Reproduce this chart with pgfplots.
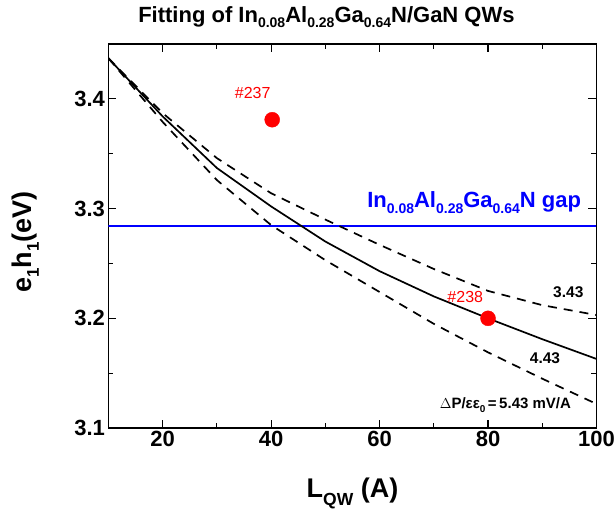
\documentclass[border=0pt]{standalone}
\usepackage{pgfplots}
\pgfplotsset{compat=1.18}
\usepackage{fontspec}
\setmainfont{Liberation Sans}
\newcommand\fs[1]{\fontsize{#1bp}{#1bp}\selectfont}
\newcommand\sbs[3]{\raisebox{-#2bp}{\fs{#1}#3}}
\begin{document}
\begin{tikzpicture}
\begin{axis}[
  width=488bp, height=384bp, scale only axis,
  xmin=10, xmax=100, ymin=3.1, ymax=3.45,
  xtick={20,40,60,80,100}, minor x tick num=1,
  ytick={3.1,3.2,3.3,3.4}, minor y tick num=1,
  tick align=inside,
  major tick length=8bp, minor tick length=5bp,
  every tick/.style={black, line width=1.2bp},
  axis line style={line width=1.6bp},
  ticklabel style={font=\fs{22}\bfseries},
  /pgf/number format/assume math mode=true,
  yticklabel style={/pgf/number format/fixed, /pgf/number format/precision=1},
  title={\fs{22}\bfseries Fitting of In\sbs{14}{5}{0.08}Al\sbs{14}{5}{0.28}Ga\sbs{14}{5}{0.64}N/GaN QWs},
  title style={at={(axis description cs:0.4467,1.0417)}, anchor=base, inner sep=0},
  xlabel={\fs{27}\bfseries L\sbs{17.5}{7.5}{QW} (A)},
  xlabel style={at={(axis description cs:0.5,-0.182)}, anchor=base, inner sep=0},
  ylabel={\fs{27}\bfseries e\sbs{17}{7}{1}h\sbs{17}{7}{1}(eV)},
  ylabel style={at={(axis description cs:-0.157,0.484)}, anchor=base, inner sep=0},
]
\coordinate (sw) at (rel axis cs:0,0);
\coordinate (ne) at (rel axis cs:1,1);
\addplot[blue, line width=1.5bp] coordinates {(10,3.284) (100,3.284)};
\addplot[black, line width=1.7bp] coordinates {
(10,3.437) (20,3.384) (30,3.337) (40,3.302) (50,3.270) (60,3.243) (70,3.220) (80,3.200) (90,3.181) (100,3.163)};
\addplot[black, line width=1.7bp, dash pattern=on 9bp off 7bp] coordinates {
(10,3.437) (20,3.387) (30,3.346) (40,3.314) (50,3.290) (60,3.267) (70,3.245) (80,3.225) (90,3.212) (100,3.203)};
\addplot[black, line width=1.7bp, dash pattern=on 9bp off 7bp] coordinates {
(10,3.437) (20,3.379) (30,3.326) (40,3.285) (50,3.253) (60,3.224) (70,3.195) (80,3.169) (90,3.145) (100,3.122)};
\addplot[only marks, mark=*, mark size=7.5bp, red, mark options={draw=red, fill=red}] coordinates {(40.2,3.381) (80,3.200)};
\node[red, font=\fs{16}] at (axis cs:36.6,3.4058) {\#237};
\node[red, font=\fs{16}] at (axis cs:75.8,3.2198) {\#238};
\node[font=\fs{15.5}\bfseries] at (axis cs:94.8,3.2234) {3.43};
\node[font=\fs{15.5}\bfseries] at (axis cs:90.5,3.164) {4.43};
\node[font=\fs{15}\bfseries] at (axis cs:83.2,3.121) {$\Delta$P/εε\sbs{10}{4}{0}\,=\,5.43 mV/A};
\node[blue, font=\fs{22}\bfseries, anchor=base west, inner sep=0] at (axis cs:57.7,3.301) {In\sbs{14}{6}{0.08}Al\sbs{14}{6}{0.28}Ga\sbs{14}{6}{0.64}N gap};
\end{axis}
\pgfresetboundingbox
\path ([shift={(-108.4bp,-81bp)}]sw) rectangle ([shift={(18.5bp,44bp)}]ne);
\end{tikzpicture}
\end{document}
